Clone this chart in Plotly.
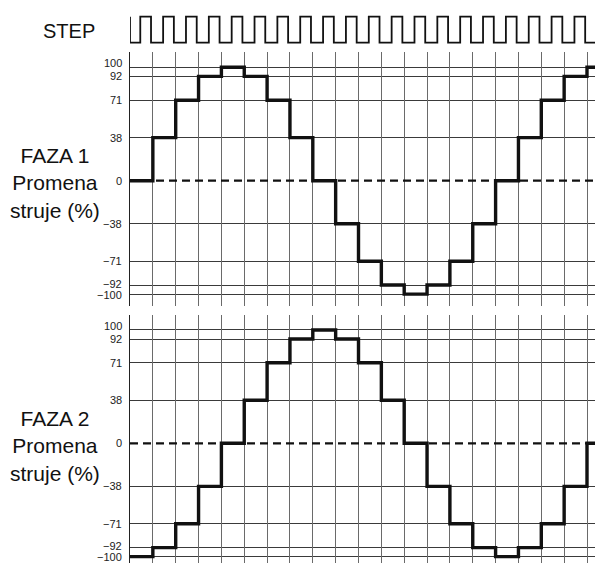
import plotly.graph_objects as go

# ---- data ----
steps = list(range(21))
x_end = 20.7
faza1 = [0, 38, 71, 92, 100, 92, 71, 38, 0, -38, -71, -92, -100, -92, -71, -38, 0, 38, 71, 92, 100]
faza2 = [-100, -92, -71, -38, 0, 38, 71, 92, 100, 92, 71, 38, 0, -38, -71, -92, -100, -92, -71, -38, 0]
tick_vals = [-100, -92, -71, -38, 0, 38, 71, 92, 100]
tick_text = ["\u2212100", "\u221292", "\u221271", "\u221238", "0", "38", "71", "92", "100"]
step_rise = 0.45   # pulse rises this far into each step
step_fall = 0.92   # pulse falls this far into each step
panel_titles = ["FAZA 1<br>Promena<br>struje (%)", "FAZA 2<br>Promena<br>struje (%)"]

# label vertical nudges (px) so the crowded labels do not collide
label_shift = {100: 4, 92: 0, -92: 1.5, -100: -0.5}

OFF = 8                      # page body margin
W, H = 603 - OFF, 563 - OFF
FONT = "Liberation Sans, Arial, sans-serif"

def px_x(p):
    return (p - OFF) / W

def px_y(p):
    return 1 - (p - OFF) / H

# STEP pulse train
sx, sy = [steps[0], steps[0]], [1, 0]
for k in steps:
    for off, a, b in ((step_rise, 0, 1), (step_fall, 1, 0)):
        xv = k + off
        if xv > x_end:
            break
        sx += [xv, xv]; sy += [a, b]
sx.append(x_end); sy.append(sy[-1])

fig = go.Figure()

fig.add_trace(go.Scatter(x=sx, y=sy, mode="lines", line=dict(color="#111", width=1.8),
                         xaxis="x3", yaxis="y3", hoverinfo="skip"))

for vals, xa, ya in ((faza1, "x", "y"), (faza2, "x2", "y2")):
    fig.add_trace(go.Scatter(x=[steps[0], x_end], y=[0, 0], mode="lines",
                             line=dict(color="#111", width=2.2, dash="8px,5px"),
                             xaxis=xa, yaxis=ya, hoverinfo="skip"))
    fig.add_trace(go.Scatter(x=steps + [x_end], y=vals + [vals[-1]], mode="lines",
                             line=dict(color="#111", width=3.4, shape="hv"),
                             xaxis=xa, yaxis=ya, hoverinfo="skip"))

xdom = [px_x(130), 1]
xcommon = dict(domain=xdom, range=[0, x_end], tickmode="array", tickvals=steps,
               showticklabels=False, showgrid=True, gridcolor="#6a6a6a", gridwidth=1,
               zeroline=False, showline=False, ticks="")
ycommon = dict(tickmode="array", tickvals=tick_vals, showticklabels=False, showgrid=False,
               zeroline=False, showline=True, linecolor="#222", linewidth=1, ticks="",
               minor=dict(tickmode="array", tickvals=[v for v in tick_vals if v != 0],
                          showgrid=True, gridcolor="#3a3a3a", gridwidth=1, ticks=""))

s1 = 1.134
y1_rng = [(180.7 - 305.7) / s1, (180.7 - 52) / s1]
s2 = 1.1335
y2_rng = [(443.3 - 563) / s2, (443.3 - 315) / s2]

fig.update_layout(
    width=W, height=H, margin=dict(l=0, r=0, t=0, b=0),
    paper_bgcolor="white", plot_bgcolor="white", showlegend=False,
    xaxis=dict(**xcommon, anchor="y"),
    yaxis=dict(**ycommon, domain=[px_y(305.7), px_y(52)], range=y1_rng, anchor="x"),
    xaxis2=dict(**xcommon, anchor="y2"),
    yaxis2=dict(**ycommon, domain=[0, px_y(315)], range=y2_rng, anchor="x2"),
    xaxis3=dict(domain=xdom, range=[0, x_end], visible=False, anchor="y3"),
    yaxis3=dict(domain=[px_y(50), px_y(8)], range=[(42.7 - 50) / 26, (42.7 - 8) / 26],
                visible=False, anchor="x3"),
)

# tick labels
for ya in ("y", "y2"):
    for v, t in zip(tick_vals, tick_text):
        fig.add_annotation(text=t, x=px_x(124), y=v, xref="paper", yref=ya,
                           showarrow=False, xanchor="right", yanchor="middle",
                           yshift=label_shift.get(v, 0),
                           font=dict(family=FONT, size=11, color="#222"))

fig.add_annotation(text="STEP", x=px_x(69), y=px_y(31), xref="paper", yref="paper",
                   showarrow=False, xanchor="center", yanchor="middle",
                   font=dict(family=FONT, size=20, color="#111"))
for t, ymid in zip(panel_titles, (183, 446)):
    fig.add_annotation(text=t, x=px_x(55), y=px_y(ymid), xref="paper", yref="paper",
                       showarrow=False, xanchor="center", yanchor="middle", align="center",
                       font=dict(family=FONT, size=21, color="#111"))

fig.write_html("out.html")
